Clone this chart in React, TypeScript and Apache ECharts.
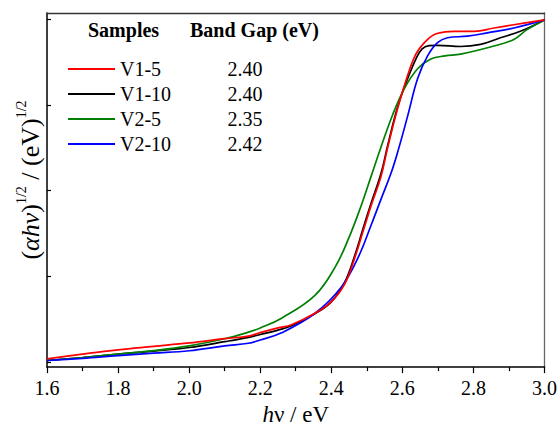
import React, { useEffect, useRef } from "react";
import * as echarts from "echarts";

const sampleNames = ["V1-5", "V1-10", "V2-5", "V2-10"];
const bandGaps = ["2.40", "2.40", "2.35", "2.42"];
const sampleColors = ["#ff0000", "#000000", "#008000", "#0000ff"];
const yTickValues = [0, 1, 2, 3, 4];

const v15: [number, number][] = [
  [1.6, 0.035], [1.7, 0.09], [1.8, 0.14], [1.9, 0.18], [2.0, 0.22], [2.1, 0.27],
  [2.167, 0.3], [2.2, 0.34], [2.25, 0.395], [2.288, 0.433], [2.354, 0.566], [2.4, 0.7],
  [2.438, 0.909], [2.466, 1.213], [2.489, 1.517], [2.512, 1.822], [2.54, 2.164],
  [2.559, 2.507], [2.587, 2.963], [2.615, 3.344], [2.638, 3.591], [2.662, 3.725],
  [2.69, 3.82], [2.72, 3.85], [2.746, 3.857], [2.802, 3.857], [2.858, 3.896],
  [2.914, 3.934], [3.0, 3.99],
];
const v110: [number, number][] = [
  [1.6, 0.015], [1.7, 0.05], [1.8, 0.09], [1.9, 0.125], [2.0, 0.167], [2.1, 0.235],
  [2.167, 0.285], [2.2, 0.318], [2.25, 0.37], [2.288, 0.42], [2.354, 0.56], [2.4, 0.7],
  [2.438, 0.93], [2.466, 1.24], [2.489, 1.55], [2.512, 1.85], [2.54, 2.2],
  [2.559, 2.53], [2.587, 2.98], [2.615, 3.306], [2.638, 3.534], [2.655, 3.65],
  [2.675, 3.69], [2.7, 3.694], [2.764, 3.68], [2.82, 3.705], [2.876, 3.782],
  [2.932, 3.857], [3.0, 3.99],
];
const v25: [number, number][] = [
  [1.6, 0.015], [1.7, 0.05], [1.8, 0.09], [1.9, 0.13], [2.0, 0.186], [2.1, 0.269],
  [2.167, 0.346], [2.2, 0.395], [2.26, 0.509], [2.354, 0.775], [2.41, 1.099],
  [2.447, 1.422], [2.484, 1.822], [2.512, 2.164], [2.54, 2.507], [2.573, 2.887],
  [2.606, 3.192], [2.643, 3.42], [2.68, 3.534], [2.72, 3.57], [2.764, 3.591],
  [2.858, 3.686], [2.914, 3.763], [2.951, 3.877], [3.0, 3.99],
];
const v210: [number, number][] = [
  [1.6, 0.015], [1.7, 0.04], [1.8, 0.072], [1.9, 0.1], [2.0, 0.129], [2.1, 0.186],
  [2.167, 0.216], [2.2, 0.255], [2.26, 0.338], [2.354, 0.566], [2.428, 0.871],
  [2.475, 1.213], [2.512, 1.594], [2.54, 1.898], [2.568, 2.2], [2.587, 2.45],
  [2.615, 2.87], [2.643, 3.306], [2.671, 3.57], [2.699, 3.725], [2.727, 3.782],
  [2.783, 3.8], [2.839, 3.839], [2.914, 3.896], [3.0, 3.99],
];

const seriesData = [v15, v110, v25, v210];
// drawing order (later on top)
const drawOrder = [1, 2, 3, 0];

const FONT = "'Times New Roman', 'Liberation Serif', 'DejaVu Serif', serif";

export default function App() {
  const ref = useRef<HTMLDivElement>(null);
  useEffect(() => {
    if (!ref.current) return;
    const chart = echarts.init(ref.current, undefined, { renderer: "svg" });
    chart.setOption({
      animation: false,
      backgroundColor: "#ffffff",
      textStyle: { fontFamily: FONT },
      grid: { left: 47, right: 14, top: 13, bottom: 56 },
      legend: {
        orient: "vertical",
        left: 63,
        top: 54,
        icon: "rect",
        itemWidth: 47,
        itemHeight: 2,
        itemGap: 5,
        data: sampleNames,
        formatter: (name: string) =>
          `{n|${name}}{v|${bandGaps[sampleNames.indexOf(name)]}}`,
        textStyle: {
          fontFamily: FONT,
          fontSize: 20,
          rich: {
            n: { width: 100, fontSize: 20, fontFamily: FONT, color: "#000", lineHeight: 20 },
            v: { width: 50, align: "center", fontSize: 20, fontFamily: FONT, color: "#000", lineHeight: 20 },
          },
        },
      },
      graphic: [
        {
          type: "text",
          left: 88,
          top: 20,
          style: { text: "Samples", fontFamily: FONT, fontWeight: "bold", fontSize: 20, fill: "#000" },
        },
        {
          type: "text",
          left: 190,
          top: 20,
          style: { text: "Band Gap (eV)", fontFamily: FONT, fontWeight: "bold", fontSize: 20, fill: "#000" },
        },
        {
          type: "text",
          x: 30,
          y: 180,
          rotation: Math.PI / 2,
          style: {
            text: "{n|(}{i|αhν}{n|)}{s|1/2}{n| / (eV)}{s|1/2}",
            align: "center",
            verticalAlign: "middle",
            fill: "#000",
            fontFamily: FONT,
            fontSize: 26,
            rich: {
              n: { fontSize: 26, fontFamily: FONT, fill: "#000", lineHeight: 32 },
              i: { fontSize: 26, fontFamily: FONT, fontStyle: "italic", fill: "#000", lineHeight: 32 },
              s: { fontSize: 14, fontFamily: FONT, fill: "#000", lineHeight: 15, verticalAlign: "top" },
            },
          },
        },
      ],
      xAxis: [
        {
          type: "value",
          min: 1.6,
          max: 3.0,
          interval: 0.2,
          name: "{i|h}{n|ν / eV}",
          nameLocation: "middle",
          nameGap: 34,
          nameTextStyle: {
            fontFamily: FONT,
            fontSize: 23,
            rich: {
              i: { fontSize: 23, fontFamily: FONT, fontStyle: "italic", color: "#000" },
              n: { fontSize: 23, fontFamily: FONT, color: "#000" },
            },
          },
          axisLine: { show: true, onZero: false, lineStyle: { color: "#000", width: 1.5 } },
          axisTick: { show: true, inside: false, length: 6, lineStyle: { color: "#000", width: 1.2 } },
          minorTick: { show: true, splitNumber: 2, length: 4, lineStyle: { color: "#000", width: 1.2 } },
          axisLabel: {
            fontSize: 20,
            fontFamily: FONT,
            color: "#000",
            margin: 11,
            formatter: (v: number) => v.toFixed(1),
          },
          splitLine: { show: false },
        },
        {
          type: "value",
          position: "top",
          min: 1.6,
          max: 3.0,
          interval: 0.2,
          axisLine: { show: true, onZero: false, lineStyle: { color: "#333", width: 1.3 } },
          axisTick: { show: false },
          axisLabel: { show: false },
          splitLine: { show: false },
        },
      ],
      yAxis: [
        {
          type: "value",
          min: -0.062,
          max: 4.071,
          axisLine: { show: true, onZero: false, lineStyle: { color: "#000", width: 1.5 } },
          axisTick: {
            show: true,
            inside: true,
            length: 4,
            customValues: yTickValues,
            lineStyle: { color: "#000", width: 1.2 },
          },
          axisLabel: { show: false },
          splitLine: { show: false },
        },
        {
          type: "value",
          position: "right",
          min: -0.062,
          max: 4.071,
          axisLine: { show: true, onZero: false, lineStyle: { color: "#666", width: 1.3 } },
          axisTick: { show: false },
          axisLabel: { show: false },
          splitLine: { show: false },
        },
      ],
      series: drawOrder.map((i) => ({
        type: "line",
        name: sampleNames[i],
        data: seriesData[i],
        xAxisIndex: 0,
        yAxisIndex: 0,
        showSymbol: false,
        symbol: "none",
        smooth: 0.4,
        lineStyle: { color: sampleColors[i], width: 1.7 },
        itemStyle: { color: sampleColors[i] },
      })),
    });
    return () => chart.dispose();
  }, []);
  return (
    <div
      ref={ref}
      style={{ position: "fixed", left: 0, top: 0, width: 560, height: 431, background: "#fff" }}
    />
  );
}
